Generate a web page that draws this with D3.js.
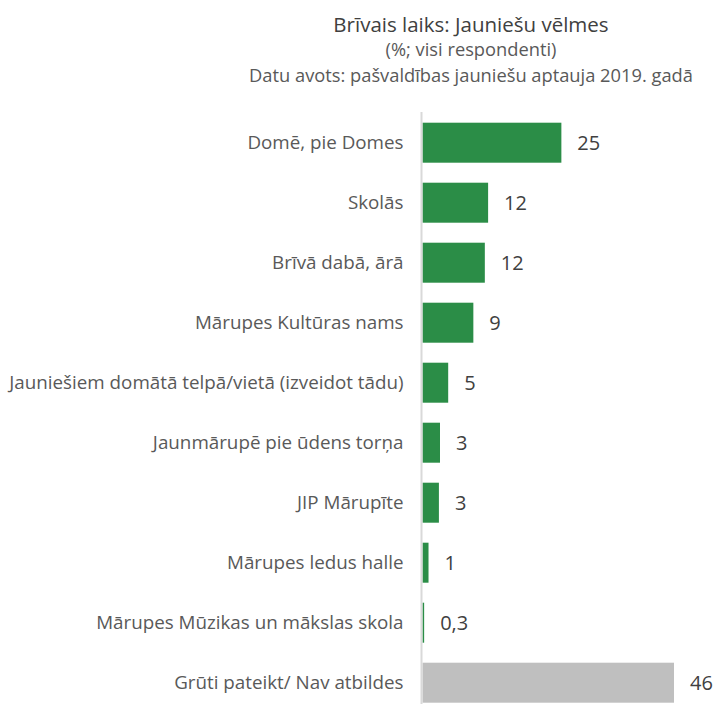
<!DOCTYPE html>
<html>
<head>
<meta charset="utf-8">
<script src="https://cdn.jsdelivr.net/npm/d3@7"></script>
<style>
  body { margin: 0; background: #fff; }
  text { font-family: "Open Sans", sans-serif; }
</style>
</head>
<body>
<svg id="view" width="715" height="704"></svg>
<script>
var view = d3.select('#view');

// data
const categories = [
    'Domē, pie Domes',
    'Skolās',
    'Brīvā dabā, ārā',
    'Mārupes Kultūras nams',
    'Jauniešiem domātā telpā/vietā (izveidot tādu)',
    'Jaunmārupē pie ūdens torņa',
    'JIP Mārupīte',
    'Mārupes ledus halle',
    'Mārupes Mūzikas un mākslas skola',
    'Grūti pateikt/ Nav atbildes'
];
const values = [25.4, 12.0, 11.4, 9.3, 4.7, 3.2, 3.0, 1.1, 0.3, 46];
const valueLabels = ['25', '12', '12', '9', '5', '3', '3', '1', '0,3', '46'];
const isOther = [false, false, false, false, false, false, false, false, false, true];

const X0 = 422.5, XMAX = 46, XEND = 674;
const GREEN = '#2b8d47', GREY = '#bfbfbf';
const FONT = '"Open Sans", sans-serif';

var x = d3.scaleLinear().domain([0, XMAX]).range([X0, XEND]);
var y = d3.scaleBand().domain(categories)
    .range([112.7, 712.7])
    .paddingInner(1/3).paddingOuter(1/6);

// titles
var titles = [
    {t: 'Brīvais laiks: Jauniešu vēlmes', y: 32, size: 20.5, color: '#404040', font: 'Lato, sans-serif'},
    {t: '(%; visi respondenti)', y: 56, size: 18.3, color: '#595959', font: FONT},
    {t: 'Datu avots: pašvaldības jauniešu aptauja 2019. gadā', y: 82, size: 18.3, color: '#595959', font: FONT}
];
view.selectAll('text.title').data(titles).enter().append('text')
    .attr('class', 'title')
    .attr('x', 471)
    .attr('y', d => d.y)
    .attr('text-anchor', 'middle')
    .attr('font-family', d => d.font)
    .attr('font-size', d => d.size)
    .attr('fill', d => d.color)
    .text(d => d.t);

// bars
view.selectAll('rect.bar').data(values).enter().append('rect')
    .attr('class', 'bar')
    .attr('x', x(0))
    .attr('y', (d, i) => y(categories[i]))
    .attr('width', d => x(d) - x(0))
    .attr('height', y.bandwidth())
    .attr('fill', (d, i) => isOther[i] ? GREY : GREEN);

// value labels
view.selectAll('text.val').data(values).enter().append('text')
    .attr('class', 'val')
    .attr('x', d => x(d) + 16)
    .attr('y', (d, i) => y(categories[i]) + y.bandwidth()/2)
    .attr('dy', '0.35em')
    .attr('font-size', 20)
    .attr('fill', '#404040')
    .text((d, i) => valueLabels[i]);

// category axis
var axis = view.append('g')
    .attr('transform', 'translate(' + (X0 - 1) + ',0)')
    .call(d3.axisLeft(y).tickSize(0).tickPadding(18));
axis.select('.domain').remove();
axis.selectAll('text')
    .attr('font-family', FONT)
    .attr('font-size', 18.8)
    .attr('fill', '#595959');

view.append('line')
    .attr('x1', X0 - 1).attr('x2', X0 - 1)
    .attr('y1', 112).attr('y2', 704)
    .attr('stroke', '#d9d9d9')
    .attr('stroke-width', 2);
</script>
</body>
</html>
